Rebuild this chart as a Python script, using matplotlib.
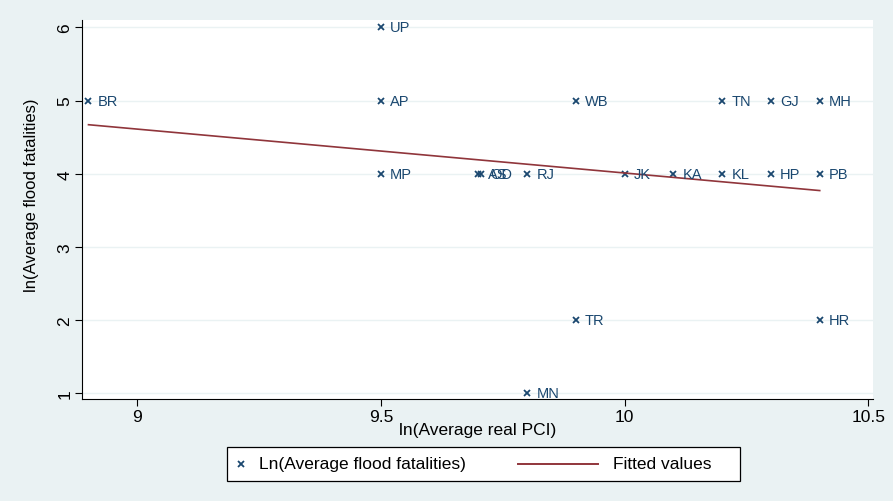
import matplotlib
matplotlib.use("Agg")
import matplotlib.pyplot as plt
from matplotlib.lines import Line2D
from matplotlib.patches import Rectangle

# state codes, ln(avg real PCI), ln(avg flood fatalities)
states = ["BR", "UP", "AP", "MP", "AS", "OD", "RJ", "MN", "WB", "TR",
          "JK", "KA", "TN", "KL", "GJ", "HP", "MH", "PB", "HR"]
ln_pci = [8.90, 9.50, 9.50, 9.50, 9.70, 9.705, 9.80, 9.80, 9.90, 9.90,
          10.00, 10.10, 10.20, 10.20, 10.30, 10.30, 10.40, 10.40, 10.40]
ln_fat = [5, 6, 5, 4, 4, 4, 4, 1, 5, 2,
          4, 4, 5, 4, 5, 4, 5, 4, 2]

# fitted line end points
fit_x = [8.90, 10.40]
fit_y = [4.67, 3.77]

bg = "#eaf2f3"
navy = "#1a476f"
maroon = "#90353b"

plt.rcParams["font.family"] = ["Liberation Sans", "DejaVu Sans"]

fig = plt.figure(figsize=(8.93, 5.02), dpi=100, facecolor=bg)
ax = fig.add_axes([0.092, 0.203, 0.886, 0.755])
ax.set_facecolor("white")

ax.plot(ln_pci, ln_fat, ls="none", marker="x", ms=4, mew=1.3, color=navy)
for s, x, y in zip(states, ln_pci, ln_fat):
    ax.annotate(s, (x, y), xytext=(6.5, 0), textcoords="offset points",
                va="center", ha="left", fontsize=10.5, color=navy)
ax.plot(fit_x, fit_y, color=maroon, lw=1.2)

ax.set_xlim(8.887, 10.51)
ax.set_ylim(0.92, 6.1)
ax.set_xticks([9, 9.5, 10, 10.5])
ax.set_xticklabels(["9", "9.5", "10", "10.5"])
ax.set_yticks([1, 2, 3, 4, 5, 6])
ax.yaxis.grid(True, color=bg, lw=1)
ax.set_axisbelow(True)
for lab in ax.get_yticklabels():
    lab.set_rotation(90)
    lab.set_va("center")
ax.tick_params(labelsize=12.5, length=5, color="black", pad=2)
ax.spines["top"].set_visible(False)
ax.spines["right"].set_visible(False)

ax.set_xlabel("ln(Average real PCI)", fontsize=12.5, labelpad=-1)
ax.set_ylabel("ln(Average flood fatalities)", fontsize=12)
ax.yaxis.set_label_coords(-0.054, 0.54)

# legend drawn by hand so the marker entry stays compact like Stata's
fig.patches.append(Rectangle((0.254, 0.040), 0.575, 0.068, transform=fig.transFigure,
                             facecolor="white", edgecolor="black", lw=0.9))
ly = 0.074
fig.lines.append(Line2D([0.270], [ly], transform=fig.transFigure, ls="none",
                        marker="x", ms=4, mew=1.3, color=navy))
fig.text(0.290, ly, "Ln(Average flood fatalities)", fontsize=12.5, va="center", ha="left")
fig.lines.append(Line2D([0.580, 0.670], [ly, ly], transform=fig.transFigure,
                        color=maroon, lw=1.4))
fig.text(0.686, ly, "Fitted values", fontsize=12.5, va="center", ha="left")

fig.savefig("out.png", dpi=100, facecolor=bg)
